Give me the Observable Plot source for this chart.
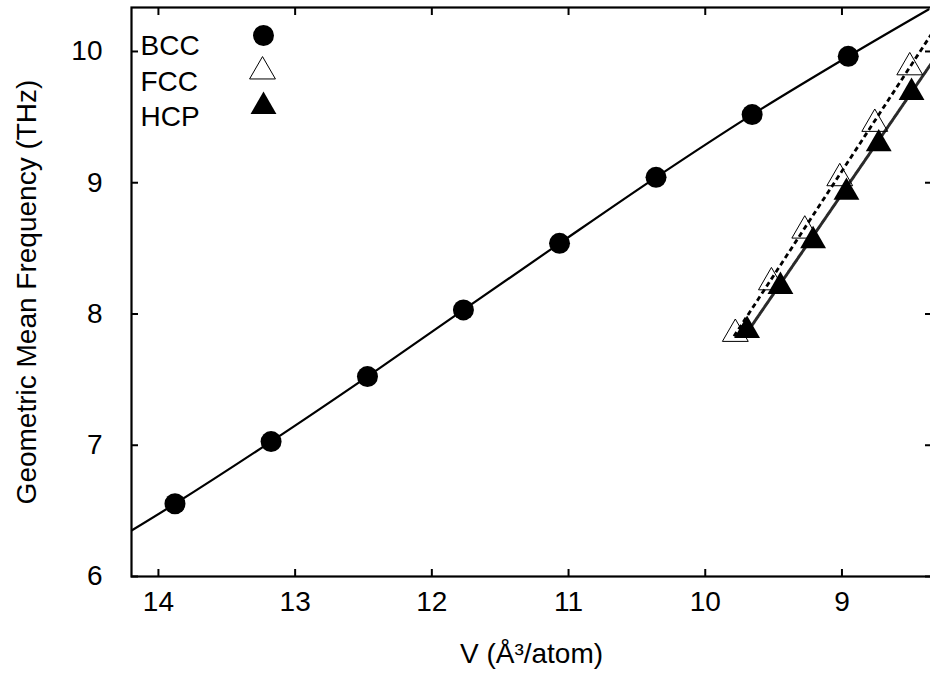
<!DOCTYPE html>
<html><head><meta charset="utf-8">
<script src="https://cdn.jsdelivr.net/npm/d3@7"></script>
<script src="https://cdn.jsdelivr.net/npm/@observablehq/plot@0.6"></script>
<style>
body{margin:0;background:#fff;overflow:hidden}
#chart svg{font-family:"Liberation Sans",Arial,Helvetica,sans-serif}
</style>
</head><body><div id="chart"></div>
<script>
// BCC data points
const bccV = [13.879, 13.176, 12.471, 11.769, 11.066, 10.360, 9.657, 8.954];
const bccF = [6.554, 7.028, 7.523, 8.031, 8.538, 9.041, 9.519, 9.963];
// BCC fit curve
const bccFitV = [14.197, 13.879, 13.176, 12.471, 11.769, 11.066, 10.360, 9.657, 8.954, 8.367];
const bccFitF = [6.350, 6.554, 7.028, 7.523, 8.031, 8.538, 9.041, 9.519, 9.963, 10.320];
// FCC data points
const fccV = [9.780, 9.516, 9.272, 9.016, 8.760, 8.504];
const fccF = [7.848, 8.241, 8.635, 9.034, 9.448, 9.879];
const fccFitV = [9.790, 8.345];
const fccFitF = [7.830, 10.133];
// HCP data points
const hcpV = [9.694, 9.450, 9.211, 8.967, 8.731, 8.491];
const hcpF = [7.874, 8.209, 8.558, 8.927, 9.296, 9.688];
const hcpFitV = [9.700, 8.345];
const hcpFitF = [7.850, 9.911];
// ticks and labels
const xTicks = [14, 13, 12, 11, 10, 9];
const yTicks = [6, 7, 8, 9, 10];
const legendNames = ["BCC", "FCC", "HCP"];
const xTitle = "V (Å³/atom)";
const yTitle = "Geometric Mean Frequency (THz)";

const pts = (V, F) => V.map((v, i) => ({v, f: F[i]}));
const bcc = pts(bccV, bccF), bccFit = pts(bccFitV, bccFitF);
const fcc = pts(fccV, fccF), fccFit = pts(fccFitV, fccFitF);
const hcp = pts(hcpV, hcpF), hcpFit = pts(hcpFitV, hcpFitF);

const FS = 28;
const txt = {fontSize: FS, fill: "black", letterSpacing: 1.5};
const TR = 9.6;

const chart = Plot.plot({
  width: 930, height: 673,
  marginLeft: 131, marginRight: -1, marginTop: 7, marginBottom: 97,
  x: {domain: [14.197, 8.345]},
  y: {domain: [6, 10.335]},
  style: {background: "white", color: "black", fontSize: FS + "px", overflow: "visible"},
  marks: [
    Plot.line(bccFit, {x: "v", y: "f", curve: "catmull-rom", stroke: "black", strokeWidth: 2.2, clip: true}),
    Plot.line(hcpFit, {x: "v", y: "f", stroke: "#2a2a2a", strokeWidth: 3, strokeDasharray: "1.2,1", clip: true}),
    Plot.line(fccFit, {x: "v", y: "f", stroke: "black", strokeWidth: 2.8, strokeDasharray: "5,3.5", strokeLinecap: "butt", clip: true}),
    Plot.dot(bcc, {x: "v", y: "f", r: 10.5, fill: "black", stroke: null}),
    Plot.dot(fcc, {x: "v", y: "f", symbol: "triangle", r: TR, fill: "none", stroke: "black", strokeWidth: 1}),
    Plot.dot(hcp, {x: "v", y: "f", symbol: "triangle", r: TR, fill: "black", stroke: null}),
    // axes with inward ticks
    Plot.axisX(xTicks, {anchor: "bottom", tickSize: -7, tickPadding: 22, strokeWidth: 2, label: null, tickFormat: d => String(d), letterSpacing: 1.5}),
    Plot.axisX(xTicks, {anchor: "top", tickSize: -7, strokeWidth: 2, label: null, tickFormat: () => ""}),
    Plot.axisY(yTicks, {anchor: "left", tickSize: -7, tickPadding: 36, strokeWidth: 2, label: null, tickFormat: d => String(d), letterSpacing: 1.5}),
    Plot.axisY(yTicks, {anchor: "right", tickSize: -7, strokeWidth: 2, label: null, tickFormat: () => ""}),
    Plot.frame({stroke: "black", strokeWidth: 2.2}),
    // titles
    Plot.text([xTitle], {frameAnchor: "bottom", dy: 86, ...txt}),
    Plot.text([yTitle], {frameAnchor: "left", dx: -104, rotate: -90, textAnchor: "middle", fontSize: FS, fill: "black", letterSpacing: 1.5}),
    // legend
    Plot.text([legendNames[0]], {frameAnchor: "top-left", dx: 9, dy: 28, textAnchor: "start", ...txt}),
    Plot.text([legendNames[1]], {frameAnchor: "top-left", dx: 9, dy: 64, textAnchor: "start", ...txt}),
    Plot.text([legendNames[2]], {frameAnchor: "top-left", dx: 9, dy: 99, textAnchor: "start", ...txt}),
    Plot.dot([legendNames[0]], {frameAnchor: "top-left", dx: 132, dy: 28, r: 10.5, fill: "black", stroke: null}),
    Plot.dot([legendNames[1]], {frameAnchor: "top-left", dx: 131, dy: 64, symbol: "triangle", r: TR, fill: "none", stroke: "black", strokeWidth: 1}),
    Plot.dot([legendNames[2]], {frameAnchor: "top-left", dx: 132, dy: 99, symbol: "triangle", r: TR, fill: "black", stroke: null})
  ]
});
document.getElementById("chart").append(chart);
</script>
</body></html>
